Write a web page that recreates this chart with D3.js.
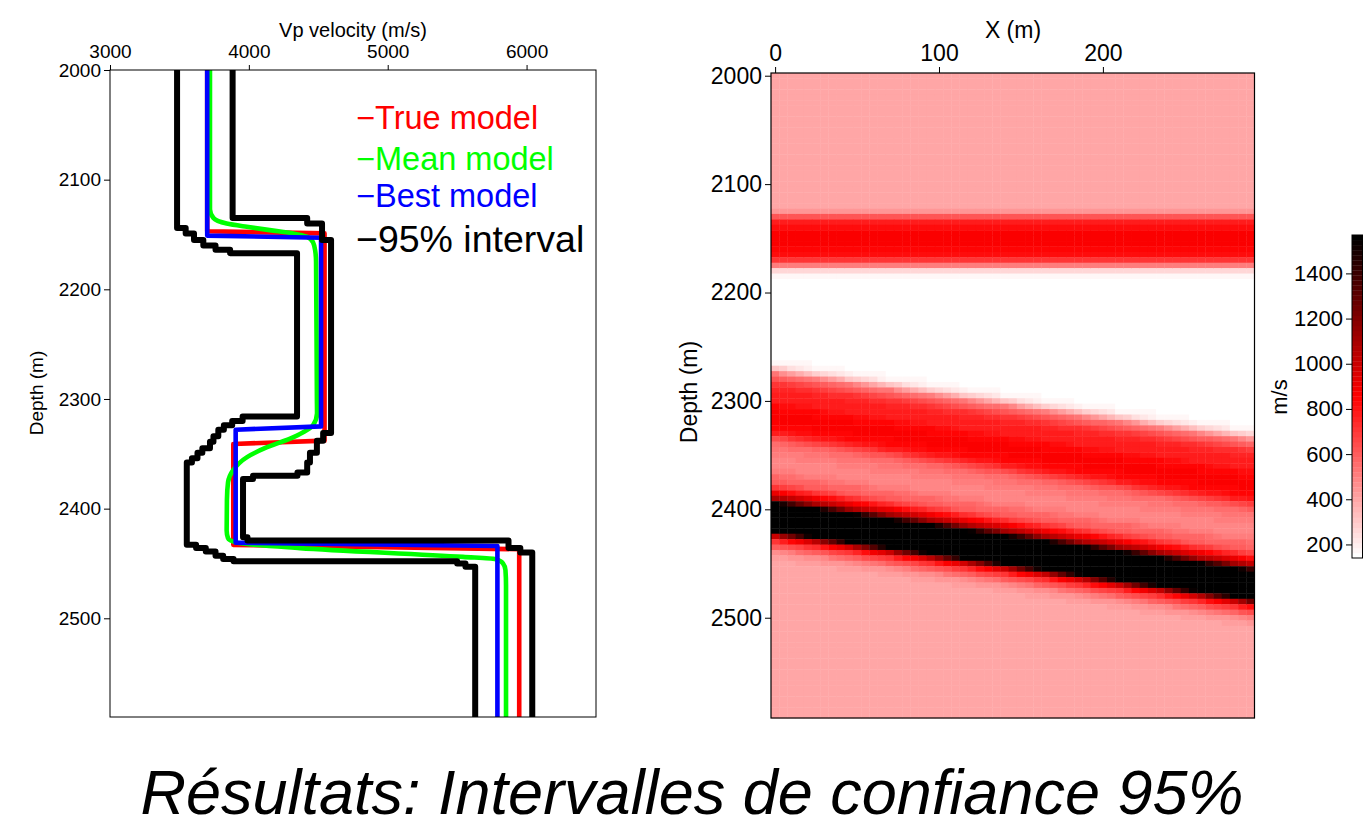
<!DOCTYPE html>
<html>
<head>
<meta charset="utf-8">
<script src="https://cdn.jsdelivr.net/npm/d3@7"></script>
<style>
  body { margin: 0; background: #fff; }
  svg { display: block; font-family: "Liberation Sans", Arial, Helvetica, sans-serif; }
</style>
</head>
<body>
<svg id="fig" width="1363" height="828"></svg>
<script>
// ---------- 1D velocity profiles: [Vp (m/s), depth (m)] ----------
const trueModel = [[3700,2000],[3700,2147],[4545,2149],[4545,2338],[3888,2341],[3888,2433],[5947,2437],[5947,2590]];
const bestModel = [[3700,2000],[3700,2151],[4520,2153],[4520,2325],[3905,2328],[3905,2431],[5790,2434],[5790,2590]];
const meanModel = [[3720,2000],[3720,2127],[3745,2135],[3840,2140],[3985,2143],[4150,2146],[4320,2149],[4417,2152],
  [4462,2157],[4478,2165],[4484,2175],[4490,2300],[4491,2313],[4462,2324],[4318,2335],[4131,2344],[3987,2353],
  [3886,2365],[3850,2376],[3842,2392],[3840,2420],[3850,2427],[3912,2431],[4368,2436],[5542,2444],[5773,2446],
  [5830,2450],[5848,2456],[5852,2470],[5852,2590]];
// 95% bounds, piecewise constant: each Vp holds from its depth down to the next depth
const lower95 = [[3483,2000],[3545,2144],[3605,2149],[3672,2155],[3760,2160],[3865,2164],[4347,2167],[3955,2316],
  [3880,2320],[3820,2324],[3780,2328],[3745,2334],[3720,2339],[3665,2345],[3630,2349],[3590,2354],[3553,2358],
  [3620,2433],[3690,2436],[3760,2439],[3815,2443],[3890,2446],[5500,2448],[5560,2450],[5630,2453],[5630,2590]];
const upper95 = [[3883,2000],[4420,2135],[4527,2140],[4592,2155],[4535,2331],[4490,2338],[4440,2349],[4420,2358],
  [4350,2367],[4030,2370],[3958,2373],[3990,2426],[5870,2429],[5955,2436],[6041,2440],[6041,2590]];

const vpTicks = [3000, 4000, 5000, 6000];
const depthTicks = [2000, 2100, 2200, 2300, 2400, 2500];
const xTicks = [0, 100, 200];
const cbarTicks = [200, 400, 600, 800, 1000, 1200, 1400];

const legendLabels = ["True model", "Mean model", "Best model", "95% interval"];
const seriesColors = ["#ff0000", "#00ff00", "#0000ff", "#000000"];

// ---------- 2D section of the 95% interval width (m/s) ----------
const sectionX = d3.range(0, 291, 5);        // cell centres, m
const sectionZ = d3.range(2000, 2591, 5);    // cell centres, m
// horizontal layer, identical in every column
const flatDepth = [2120,2125,2130,2135,2140,2145,2150,2155,2160,2165,2170,2175,2180,2185,2190];
const flatValue = [390, 450, 630, 770, 830, 855, 860, 860, 850, 820, 720, 500, 270, 180, 150];
// dipping layers, as seen in the first column
const dipDepth = [2255,2260,2265,2270,2275,2280,2285,2290,2295,2300,2305,2310,2315,2320,2325,2330,2335,2340,2345,2350,
  2355,2360,2365,2370,2375,2380,2385,2390,2395,2400,2405,2410,2415,2420,2425,2430,2435,2440,2445,2450];
const dipValue = [150,160,180,300,520,620,720,765,770,780,840,855,860,855,840,770,650,560,530,500,
  495,495,500,580,590,720,900,1100,1600,1600,1600,1600,1600,1600,1000,720,590,460,420,390];
// downward offset of the dipping layers across the section
const dipX = [0, 290];
const dipOffset = [0, 62];
const cbarDomain = [140, 1570];

// ---------- drawing ----------
const svg = d3.select("#fig");
const black = "#000";

// ===== left panel: profiles =====
const xV = d3.scaleLinear().domain([3000, 6500]).range([110, 596]);
const yL = d3.scaleLinear().domain([2000, 2590]).range([70, 717]);

const left = svg.append("g");
left.append("defs").append("clipPath").attr("id", "clipL")
  .append("rect").attr("x", 110).attr("y", 70).attr("width", 486).attr("height", 647);

const lineSmooth = d3.line().x(d => xV(d[0])).y(d => yL(d[1])).curve(d3.curveMonotoneY);
const lineSharp = d3.line().x(d => xV(d[0])).y(d => yL(d[1]));
const lineStep = d3.line().x(d => xV(d[0])).y(d => yL(d[1])).curve(d3.curveStepBefore);

const curves = left.append("g").attr("clip-path", "url(#clipL)")
  .attr("fill", "none").attr("stroke-linejoin", "round");
curves.append("path").attr("d", lineSharp(trueModel)).attr("stroke", seriesColors[0]).attr("stroke-width", 4.6);
curves.append("path").attr("d", lineSmooth(meanModel)).attr("stroke", seriesColors[1]).attr("stroke-width", 4.6);
curves.append("path").attr("d", lineSharp(bestModel)).attr("stroke", seriesColors[2]).attr("stroke-width", 4.6);
curves.append("path").attr("d", lineStep(lower95)).attr("stroke", seriesColors[3]).attr("stroke-width", 6);
curves.append("path").attr("d", lineStep(upper95)).attr("stroke", seriesColors[3]).attr("stroke-width", 6);

left.append("rect").attr("x", 110).attr("y", 70).attr("width", 486).attr("height", 647)
  .attr("fill", "none").attr("stroke", black).attr("stroke-width", 1);

function styleAxis(g, size) {
  g.select(".domain").remove();
  g.selectAll(".tick line").attr("stroke", black);
  g.selectAll(".tick text").attr("fill", black).attr("font-size", size)
    .attr("font-family", "'Liberation Sans', Arial, sans-serif");
}

left.append("g").attr("transform", "translate(0,70)")
  .call(d3.axisTop(xV).tickValues(vpTicks).tickSize(5).tickPadding(7).tickFormat(d3.format("d")))
  .call(g => styleAxis(g, 19));
left.append("g").attr("transform", "translate(110,0)")
  .call(d3.axisLeft(yL).tickValues(depthTicks).tickSize(6).tickPadding(3).tickFormat(d3.format("d")))
  .call(g => styleAxis(g, 19));

left.append("text").attr("x", 353).attr("y", 37).attr("text-anchor", "middle")
  .attr("font-size", 20).text("Vp velocity (m/s)");
left.append("text").attr("transform", "translate(43,393) rotate(-90)").attr("text-anchor", "middle")
  .attr("font-size", 19).text("Depth (m)");

// legend
const legendY = [129, 169.5, 207, 252];
const legendSize = [32.5, 32.5, 32.5, 37.5];
legendLabels.forEach((lab, i) => {
  left.append("text").attr("x", 356).attr("y", legendY[i])
    .attr("font-size", legendSize[i]).attr("fill", seriesColors[i]).text("\u2212" + lab);
});

// ===== right panel: interval-width section =====
const xX = d3.scaleLinear().domain([-2.5, 292.5]).range([771, 1254.5]);
const yR = d3.scaleLinear().domain([1997.5, 2592.5]).range([73, 718]);

const flatScale = d3.scaleLinear().domain(flatDepth).range(flatValue).clamp(true);
const dipScale = d3.scaleLinear().domain(dipDepth).range(dipValue).clamp(true);
const offsetScale = d3.scaleLinear().domain(dipX).range(dipOffset);

const nLevels = 64;
const ramp = d3.scaleLinear().domain([0, 0.5, 1]).range(["#ffffff", "#ff0000", "#000000"]);
const norm = d3.scaleLinear().domain(cbarDomain).range([0, 1]).clamp(true);
function colorOf(v) {
  const k = Math.min(nLevels - 1, Math.floor(norm(v) * nLevels));
  return ramp(k / (nLevels - 1));
}

const cells = [];
sectionX.forEach(x => {
  const off = offsetScale(x);
  sectionZ.forEach(z => {
    const v = z < 2230 ? flatScale(z) : dipScale(z - off);
    cells.push({ x, z, v });
  });
});

const cw = xX(5) - xX(0), ch = yR(5) - yR(0);
const right = svg.append("g");
right.append("g").selectAll("rect").data(cells).join("rect")
  .attr("x", d => xX(d.x - 2.5)).attr("y", d => yR(d.z - 2.5))
  .attr("width", cw + 0.4).attr("height", ch + 0.4)
  .attr("fill", d => colorOf(d.v));

right.append("rect").attr("x", 771).attr("y", 73).attr("width", 483.5).attr("height", 645)
  .attr("fill", "none").attr("stroke", black).attr("stroke-width", 1.2);

right.append("g").attr("transform", "translate(0,73)")
  .call(d3.axisTop(xX).tickValues(xTicks).tickSize(6).tickPadding(6).tickFormat(d3.format("d")))
  .call(g => styleAxis(g, 23));
right.append("g").attr("transform", "translate(771,0)")
  .call(d3.axisLeft(yR).tickValues(depthTicks).tickSize(6).tickPadding(3).tickFormat(d3.format("d")))
  .call(g => styleAxis(g, 23));

right.append("text").attr("x", 1013).attr("y", 38).attr("text-anchor", "middle")
  .attr("font-size", 23).text("X (m)");
right.append("text").attr("transform", "translate(697,392) rotate(-90)").attr("text-anchor", "middle")
  .attr("font-size", 23).text("Depth (m)");

// colour bar
const yC = d3.scaleLinear().domain(cbarDomain).range([558, 235]);
const levels = d3.range(nLevels);
const step = (cbarDomain[1] - cbarDomain[0]) / nLevels;
const cbar = svg.append("g");
cbar.selectAll("rect").data(levels).join("rect")
  .attr("x", 1352).attr("width", 10.5)
  .attr("y", k => yC(cbarDomain[0] + (k + 1) * step))
  .attr("height", k => yC(cbarDomain[0] + k * step) - yC(cbarDomain[0] + (k + 1) * step) + 0.3)
  .attr("fill", k => ramp(k / (nLevels - 1)));
cbar.append("rect").attr("x", 1352).attr("y", 235).attr("width", 10.5).attr("height", 323)
  .attr("fill", "none").attr("stroke", black).attr("stroke-width", 1);
cbar.append("g").attr("transform", "translate(1352,0)")
  .call(d3.axisLeft(yC).tickValues(cbarTicks).tickSize(6).tickPadding(3).tickFormat(d3.format("d")))
  .call(g => styleAxis(g, 22));
cbar.append("text").attr("transform", "translate(1287,397) rotate(-90)").attr("text-anchor", "middle")
  .attr("font-size", 22).text("m/s");

// title
svg.append("text").attr("x", 692).attr("y", 814).attr("text-anchor", "middle")
  .attr("font-size", 63).attr("font-style", "italic").attr("fill", black)
  .text("Résultats: Intervalles de confiance 95%");
</script>
</body>
</html>
